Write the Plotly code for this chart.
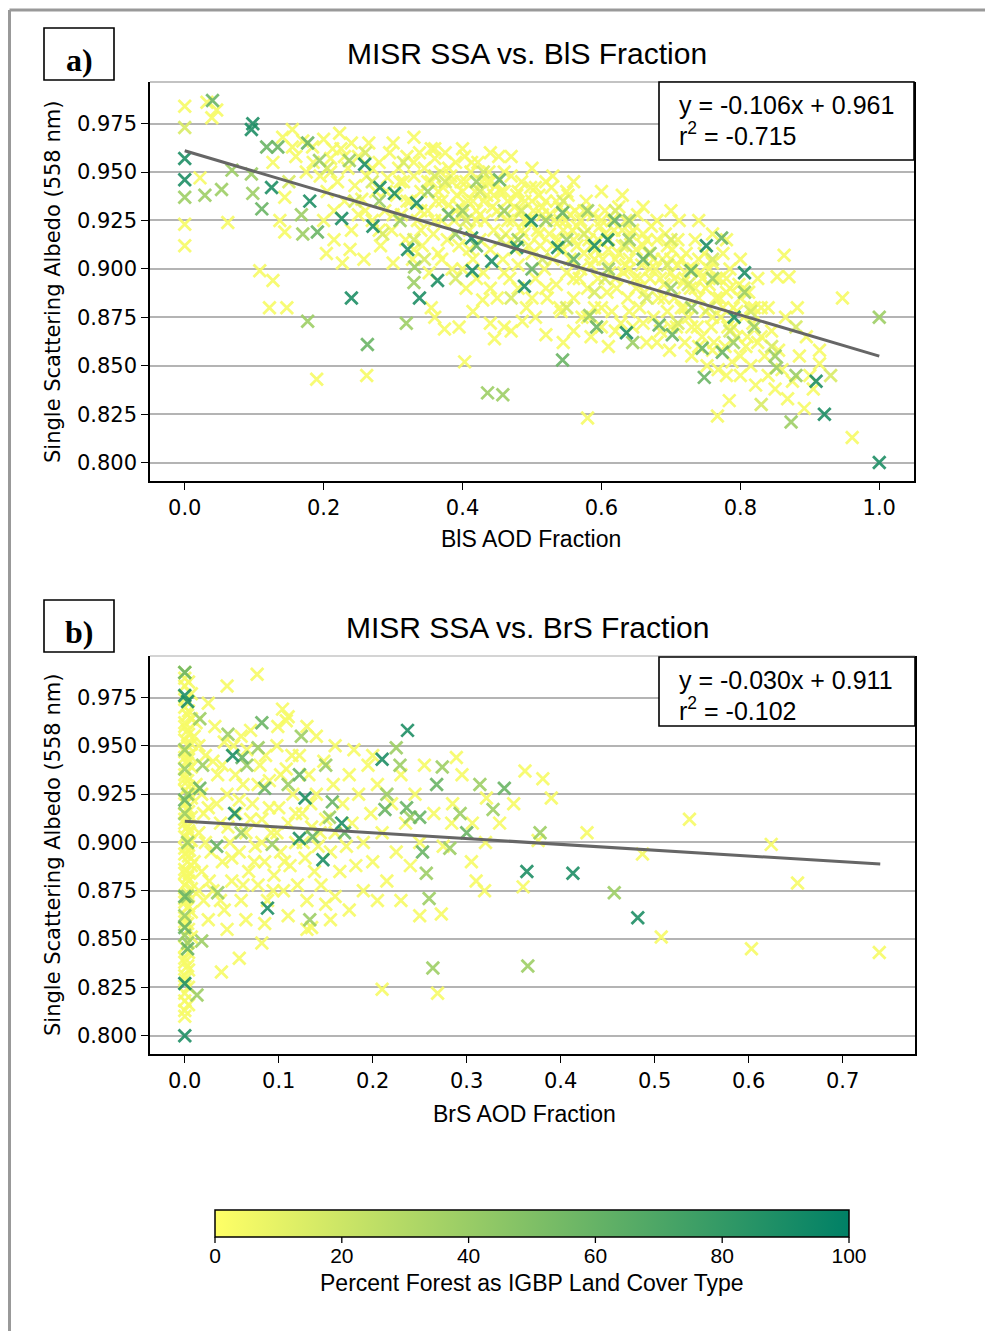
import plotly.graph_objects as go

# The page adds an 8px body margin, so the figure is 8px smaller and target page coords are shifted.
OFF = 8
W, H = 993 - OFF, 1331 - OFF

# ---------------- Panel a data (BlS fraction, SSA) grouped by % forest -------------
forest_levels = [3, 15, 38, 58, 88]

pts_a_f3 = [(0.000, 0.984), (0.000, 0.923), (0.000, 0.912), (0.032, 0.986), (0.046, 0.982), (0.039, 0.978),
            (0.022, 0.947), (0.062, 0.924), (0.108, 0.899), (0.127, 0.894), (0.122, 0.880), (0.147, 0.880),
            (0.190, 0.843), (0.204, 0.908), (0.227, 0.903), (0.262, 0.845), (0.360, 0.875), (0.374, 0.869),
            (0.403, 0.852), (0.413, 0.955), (0.446, 0.864), (0.460, 0.870), (0.486, 0.873), (0.429, 0.884),
            (0.580, 0.823), (0.767, 0.824), (0.784, 0.832), (0.868, 0.833), (0.892, 0.828), (0.914, 0.851),
            (0.961, 0.813), (0.947, 0.885), (0.863, 0.907), (0.882, 0.880), (0.870, 0.896), (0.853, 0.896),
            (0.914, 0.858), (0.895, 0.865), (0.127, 0.955), (0.144, 0.937), (0.137, 0.925), (0.144, 0.919),
            (0.155, 0.972), (0.141, 0.968), (0.155, 0.963), (0.184, 0.963), (0.223, 0.970), (0.213, 0.962),
            (0.160, 0.958), (0.170, 0.966), (0.175, 0.950), (0.185, 0.955), (0.195, 0.948), (0.200, 0.967),
            (0.205, 0.940), (0.210, 0.957), (0.215, 0.930), (0.220, 0.945), (0.225, 0.962), (0.230, 0.935),
            (0.235, 0.952), (0.240, 0.920), (0.245, 0.943), (0.250, 0.958), (0.250, 0.928), (0.200, 0.925),
            (0.215, 0.915), (0.238, 0.910), (0.255, 0.936), (0.258, 0.905), (0.262, 0.948), (0.265, 0.965),
            (0.270, 0.925), (0.275, 0.940), (0.280, 0.955), (0.282, 0.912), (0.288, 0.930), (0.292, 0.947),
            (0.295, 0.960), (0.298, 0.920), (0.300, 0.903), (0.305, 0.938), (0.308, 0.952), (0.312, 0.928),
            (0.315, 0.945), (0.318, 0.915), (0.320, 0.958), (0.325, 0.935), (0.328, 0.905), (0.330, 0.948),
            (0.335, 0.925), (0.338, 0.960), (0.340, 0.940), (0.342, 0.912), (0.345, 0.952), (0.350, 0.930),
            (0.352, 0.898), (0.355, 0.945), (0.358, 0.918), (0.360, 0.957), (0.362, 0.935), (0.365, 0.908),
            (0.368, 0.950), (0.370, 0.925), (0.372, 0.942), (0.375, 0.960), (0.378, 0.915), (0.380, 0.933),
            (0.383, 0.948), (0.385, 0.900), (0.388, 0.925), (0.390, 0.955), (0.392, 0.938), (0.395, 0.912),
            (0.398, 0.945), (0.400, 0.928), (0.403, 0.958), (0.405, 0.890), (0.408, 0.935), (0.410, 0.920),
            (0.412, 0.950), (0.415, 0.905), (0.418, 0.940), (0.420, 0.930), (0.422, 0.955), (0.425, 0.915),
            (0.428, 0.945), (0.430, 0.898), (0.432, 0.925), (0.435, 0.938), (0.438, 0.950), (0.440, 0.910),
            (0.443, 0.932), (0.445, 0.920), (0.448, 0.943), (0.450, 0.885), (0.452, 0.958), (0.455, 0.928),
            (0.458, 0.905), (0.460, 0.940), (0.462, 0.918), (0.465, 0.935), (0.468, 0.895), (0.470, 0.948),
            (0.472, 0.925), (0.475, 0.910), (0.478, 0.938), (0.480, 0.902), (0.482, 0.930), (0.485, 0.945),
            (0.488, 0.918), (0.490, 0.935), (0.492, 0.880), (0.495, 0.925), (0.498, 0.942), (0.500, 0.908),
            (0.502, 0.930), (0.505, 0.895), (0.508, 0.920), (0.510, 0.938), (0.512, 0.912), (0.515, 0.928),
            (0.518, 0.900), (0.520, 0.935), (0.522, 0.885), (0.525, 0.918), (0.528, 0.942), (0.530, 0.905),
            (0.532, 0.925), (0.535, 0.892), (0.538, 0.915), (0.540, 0.932), (0.542, 0.878), (0.545, 0.910),
            (0.548, 0.925), (0.550, 0.898), (0.552, 0.938), (0.555, 0.905), (0.558, 0.920), (0.560, 0.885),
            (0.562, 0.930), (0.565, 0.912), (0.568, 0.895), (0.570, 0.925), (0.572, 0.875), (0.575, 0.908),
            (0.578, 0.935), (0.580, 0.890), (0.582, 0.915), (0.585, 0.902), (0.588, 0.928), (0.590, 0.880),
            (0.592, 0.910), (0.595, 0.895), (0.598, 0.922), (0.600, 0.870), (0.602, 0.905), (0.605, 0.930),
            (0.608, 0.888), (0.610, 0.915), (0.612, 0.898), (0.615, 0.878), (0.618, 0.920), (0.620, 0.905),
            (0.622, 0.890), (0.625, 0.932), (0.628, 0.872), (0.630, 0.912), (0.632, 0.898), (0.635, 0.925),
            (0.638, 0.885), (0.640, 0.905), (0.642, 0.918), (0.645, 0.870), (0.648, 0.895), (0.650, 0.910),
            (0.652, 0.928), (0.655, 0.880), (0.658, 0.902), (0.660, 0.918), (0.662, 0.888), (0.665, 0.862),
            (0.668, 0.908), (0.670, 0.895), (0.672, 0.922), (0.675, 0.875), (0.678, 0.900), (0.680, 0.915),
            (0.682, 0.885), (0.685, 0.868), (0.688, 0.905), (0.690, 0.892), (0.692, 0.918), (0.695, 0.878),
            (0.698, 0.858), (0.700, 0.898), (0.702, 0.910), (0.705, 0.885), (0.708, 0.870), (0.710, 0.902),
            (0.712, 0.925), (0.715, 0.880), (0.718, 0.893), (0.720, 0.862), (0.722, 0.908), (0.725, 0.875),
            (0.728, 0.890), (0.730, 0.855), (0.732, 0.900), (0.735, 0.915), (0.738, 0.870), (0.740, 0.885),
            (0.742, 0.898), (0.745, 0.865), (0.748, 0.908), (0.750, 0.878), (0.752, 0.850), (0.755, 0.892),
            (0.758, 0.870), (0.760, 0.903), (0.762, 0.862), (0.765, 0.885), (0.768, 0.848), (0.770, 0.895),
            (0.772, 0.875), (0.775, 0.908), (0.778, 0.860), (0.780, 0.888), (0.782, 0.870), (0.785, 0.900),
            (0.788, 0.852), (0.790, 0.880), (0.795, 0.865), (0.798, 0.892), (0.800, 0.845), (0.805, 0.875),
            (0.808, 0.860), (0.812, 0.888), (0.815, 0.850), (0.818, 0.872), (0.822, 0.840), (0.825, 0.862),
            (0.830, 0.880), (0.835, 0.855), (0.840, 0.845), (0.845, 0.868), (0.850, 0.838), (0.855, 0.858),
            (0.860, 0.848), (0.865, 0.875), (0.875, 0.842), (0.885, 0.855), (0.900, 0.845), (0.905, 0.838),
            (0.825, 0.895), (0.800, 0.905), (0.780, 0.915), (0.760, 0.918), (0.355, 0.880), (0.395, 0.870),
            (0.415, 0.878), (0.440, 0.872), (0.470, 0.868), (0.505, 0.875), (0.520, 0.866), (0.545, 0.862),
            (0.560, 0.868), (0.585, 0.865), (0.610, 0.860), (0.300, 0.965), (0.330, 0.968), (0.360, 0.962),
            (0.400, 0.962), (0.440, 0.960), (0.470, 0.958), (0.500, 0.952), (0.530, 0.948), (0.560, 0.945),
            (0.600, 0.940), (0.630, 0.938), (0.660, 0.932), (0.700, 0.930), (0.740, 0.925),
            (0.210, 0.950), (0.230, 0.958), (0.240, 0.965), (0.260, 0.930), (0.270, 0.952), (0.280, 0.920),
            (0.290, 0.940), (0.300, 0.928), (0.310, 0.945), (0.320, 0.935), (0.330, 0.955), (0.340, 0.920),
            (0.350, 0.945), (0.360, 0.925), (0.370, 0.935), (0.380, 0.952), (0.390, 0.930), (0.400, 0.940),
            (0.410, 0.910), (0.420, 0.925), (0.430, 0.935), (0.440, 0.945), (0.450, 0.930), (0.460, 0.950),
            (0.470, 0.915), (0.480, 0.940), (0.490, 0.925), (0.500, 0.935), (0.510, 0.918), (0.520, 0.945),
            (0.530, 0.912), (0.540, 0.925), (0.550, 0.940), (0.560, 0.915), (0.570, 0.900), (0.580, 0.920),
            (0.590, 0.905), (0.600, 0.925), (0.610, 0.910), (0.620, 0.895), (0.630, 0.920), (0.640, 0.900),
            (0.650, 0.890), (0.660, 0.912), (0.670, 0.900), (0.680, 0.925), (0.690, 0.885), (0.700, 0.905),
            (0.710, 0.915), (0.720, 0.895), (0.730, 0.870), (0.740, 0.905), (0.750, 0.890), (0.760, 0.875),
            (0.770, 0.885), (0.780, 0.895), (0.790, 0.870), (0.800, 0.885), (0.810, 0.865), (0.820, 0.880),
            (0.830, 0.865), (0.840, 0.880), (0.355, 0.962), (0.365, 0.940), (0.385, 0.945), (0.395, 0.932),
            (0.405, 0.945), (0.415, 0.935), (0.425, 0.928), (0.435, 0.945), (0.445, 0.938), (0.455, 0.940),
            (0.465, 0.925), (0.475, 0.932), (0.485, 0.920), (0.495, 0.912), (0.505, 0.942), (0.515, 0.932),
            (0.525, 0.928), (0.535, 0.935), (0.545, 0.920), (0.555, 0.928), (0.565, 0.922), (0.575, 0.930),
            (0.585, 0.912), (0.595, 0.915), (0.605, 0.918), (0.615, 0.925), (0.625, 0.908), (0.635, 0.902),
            (0.645, 0.920), (0.655, 0.895), (0.665, 0.915), (0.675, 0.905), (0.685, 0.895), (0.695, 0.912),
            (0.705, 0.895), (0.715, 0.905), (0.725, 0.900), (0.735, 0.890), (0.745, 0.895), (0.755, 0.900),
            (0.765, 0.895), (0.775, 0.880), (0.785, 0.890), (0.795, 0.878), (0.805, 0.890), (0.815, 0.880),
            (0.330, 0.910), (0.340, 0.930), (0.370, 0.905), (0.400, 0.900), (0.420, 0.895), (0.440, 0.890),
            (0.460, 0.898), (0.480, 0.890), (0.500, 0.885), (0.520, 0.890), (0.540, 0.880), (0.560, 0.895),
            (0.580, 0.875), (0.600, 0.880), (0.620, 0.868), (0.640, 0.878), (0.660, 0.872), (0.680, 0.862),
            (0.700, 0.870), (0.720, 0.880), (0.740, 0.860), (0.760, 0.858), (0.780, 0.845), (0.800, 0.855)]

pts_a_f15 = [(0.000, 0.973), (0.150, 0.945), (0.205, 0.952), (0.245, 0.935), (0.285, 0.918), (0.315, 0.955),
             (0.345, 0.905), (0.375, 0.945), (0.405, 0.925), (0.425, 0.940), (0.455, 0.915), (0.485, 0.930),
             (0.515, 0.905), (0.545, 0.935), (0.575, 0.918), (0.605, 0.895), (0.635, 0.912), (0.665, 0.885),
             (0.695, 0.902), (0.725, 0.892), (0.755, 0.880), (0.785, 0.868), (0.815, 0.878), (0.845, 0.860),
             (0.880, 0.870), (0.550, 0.880), (0.470, 0.885), (0.390, 0.895), (0.330, 0.915), (0.270, 0.945),
             (0.620, 0.930), (0.700, 0.915), (0.760, 0.905), (0.930, 0.845), (0.830, 0.830), (0.710, 0.872),
             (0.590, 0.888), (0.430, 0.950), (0.360, 0.948), (0.260, 0.960)]

pts_a_f38 = [(0.000, 0.937), (0.029, 0.938), (0.053, 0.941), (0.068, 0.951), (0.096, 0.949), (0.098, 0.939),
             (0.177, 0.873), (0.168, 0.928), (0.170, 0.918), (0.194, 0.956), (0.237, 0.956), (0.319, 0.872),
             (0.331, 0.901), (0.436, 0.836), (0.458, 0.835), (0.583, 0.876), (0.645, 0.862), (0.806, 0.888),
             (0.852, 0.849), (0.873, 0.821), (0.280, 0.935), (0.310, 0.925), (0.350, 0.940), (0.390, 0.918),
             (0.420, 0.945), (0.460, 0.930), (0.480, 0.915), (0.520, 0.925), (0.550, 0.915), (0.580, 0.930),
             (0.610, 0.900), (0.640, 0.915), (0.670, 0.908), (0.700, 0.890), (0.730, 0.880), (0.760, 0.895),
             (0.790, 0.862), (0.820, 0.870), (0.850, 0.855), (0.880, 0.845), (0.330, 0.893), (0.640, 0.925),
             (0.400, 0.930), (1.000, 0.875)]

pts_a_f58 = [(0.040, 0.987), (0.111, 0.931), (0.118, 0.963), (0.134, 0.963), (0.177, 0.965), (0.191, 0.919),
             (0.263, 0.861), (0.453, 0.946), (0.544, 0.853), (0.544, 0.929), (0.593, 0.870), (0.619, 0.925),
             (0.683, 0.871), (0.702, 0.866), (0.729, 0.899), (0.745, 0.859), (0.774, 0.857), (0.748, 0.844),
             (0.773, 0.916), (0.380, 0.928), (0.420, 0.912), (0.500, 0.900), (0.560, 0.905), (0.660, 0.905)]

pts_a_f88 = [(0.098, 0.975), (0.096, 0.972), (0.000, 0.957), (0.000, 0.946), (0.125, 0.942), (0.180, 0.935),
             (0.226, 0.926), (0.240, 0.885), (0.271, 0.922), (0.259, 0.954), (0.281, 0.942), (0.302, 0.939),
             (0.321, 0.910), (0.338, 0.885), (0.334, 0.934), (0.364, 0.894), (0.413, 0.916), (0.414, 0.899),
             (0.442, 0.904), (0.478, 0.911), (0.489, 0.891), (0.499, 0.925), (0.537, 0.911), (0.590, 0.912),
             (0.609, 0.915), (0.636, 0.867), (0.751, 0.912), (0.806, 0.898), (0.791, 0.875), (0.909, 0.842),
             (0.921, 0.825), (1.000, 0.800)]

# ---------------- Panel b data (BrS fraction, SSA) grouped by % forest -------------
pts_b_f3 = [(0.000, 0.985), (0.000, 0.981), (0.000, 0.970), (0.003, 0.966), (0.000, 0.962), (0.003, 0.958),
            (0.000, 0.953), (0.003, 0.950), (0.000, 0.944), (0.003, 0.941), (0.000, 0.935), (0.003, 0.932),
            (0.000, 0.927), (0.003, 0.918), (0.000, 0.912), (0.003, 0.908), (0.000, 0.903), (0.003, 0.899),
            (0.000, 0.894), (0.003, 0.890), (0.000, 0.886), (0.003, 0.882), (0.000, 0.878), (0.003, 0.874),
            (0.000, 0.869), (0.003, 0.866), (0.000, 0.861), (0.003, 0.858), (0.000, 0.840), (0.003, 0.836),
            (0.000, 0.831), (0.000, 0.822), (0.000, 0.813), (0.005, 0.896), (0.005, 0.884), (0.005, 0.905),
            (0.005, 0.925), (0.005, 0.945),
            (0.000, 0.988), (0.004, 0.983), (0.007, 0.977), (0.000, 0.974), (0.004, 0.968), (0.007, 0.964),
            (0.000, 0.960), (0.004, 0.956), (0.007, 0.951), (0.000, 0.947), (0.004, 0.943), (0.007, 0.939),
            (0.000, 0.933), (0.004, 0.929), (0.007, 0.923), (0.000, 0.920), (0.004, 0.916), (0.007, 0.913),
            (0.000, 0.910), (0.004, 0.906), (0.007, 0.901), (0.000, 0.897), (0.004, 0.893), (0.007, 0.888),
            (0.000, 0.884), (0.004, 0.880), (0.007, 0.876), (0.000, 0.871), (0.004, 0.867), (0.007, 0.864),
            (0.000, 0.859), (0.004, 0.855), (0.007, 0.851), (0.000, 0.846), (0.004, 0.843), (0.000, 0.838),
            (0.004, 0.834), (0.000, 0.829), (0.004, 0.825), (0.000, 0.818), (0.004, 0.816), (0.000, 0.810),
            (0.045, 0.981), (0.077, 0.987), (0.025, 0.972), (0.104, 0.969),
            (0.108, 0.963), (0.099, 0.960), (0.082, 0.848), (0.058, 0.840), (0.039, 0.833), (0.210, 0.824),
            (0.269, 0.822), (0.289, 0.944), (0.362, 0.937), (0.381, 0.933), (0.390, 0.923), (0.321, 0.923),
            (0.284, 0.910), (0.306, 0.910), (0.376, 0.901), (0.428, 0.905), (0.537, 0.912), (0.487, 0.894),
            (0.624, 0.899), (0.652, 0.879), (0.739, 0.843), (0.603, 0.845), (0.507, 0.851), (0.360, 0.877),
            (0.310, 0.880), (0.319, 0.875), (0.273, 0.863), (0.135, 0.856), (0.230, 0.870), (0.250, 0.862),
            (0.010, 0.955), (0.012, 0.930), (0.015, 0.905), (0.018, 0.885), (0.020, 0.870), (0.022, 0.945),
            (0.025, 0.918), (0.028, 0.895), (0.030, 0.875), (0.032, 0.960), (0.035, 0.935), (0.038, 0.910),
            (0.040, 0.890), (0.042, 0.865), (0.045, 0.925), (0.048, 0.900), (0.050, 0.880), (0.052, 0.950),
            (0.055, 0.915), (0.058, 0.895), (0.060, 0.870), (0.062, 0.930), (0.065, 0.905), (0.068, 0.885),
            (0.070, 0.958), (0.072, 0.920), (0.075, 0.898), (0.078, 0.878), (0.080, 0.940), (0.082, 0.912),
            (0.085, 0.890), (0.088, 0.870), (0.090, 0.932), (0.092, 0.905), (0.095, 0.883), (0.098, 0.950),
            (0.100, 0.918), (0.102, 0.895), (0.105, 0.875), (0.108, 0.938), (0.110, 0.910), (0.112, 0.888),
            (0.115, 0.925), (0.118, 0.900), (0.120, 0.878), (0.122, 0.945), (0.125, 0.915), (0.128, 0.892),
            (0.130, 0.870), (0.132, 0.935), (0.135, 0.908), (0.138, 0.885), (0.140, 0.925), (0.142, 0.898),
            (0.145, 0.878), (0.148, 0.942), (0.150, 0.912), (0.155, 0.895), (0.158, 0.930), (0.160, 0.905),
            (0.165, 0.885), (0.168, 0.920), (0.172, 0.898), (0.175, 0.935), (0.178, 0.910), (0.182, 0.888),
            (0.185, 0.925), (0.190, 0.900), (0.195, 0.940), (0.198, 0.915), (0.200, 0.890), (0.205, 0.930),
            (0.210, 0.905), (0.215, 0.880), (0.220, 0.920), (0.225, 0.895), (0.230, 0.935), (0.235, 0.910),
            (0.240, 0.888), (0.245, 0.925), (0.250, 0.900), (0.255, 0.940), (0.265, 0.915), (0.275, 0.898),
            (0.285, 0.920), (0.295, 0.935), (0.305, 0.890), (0.320, 0.900), (0.335, 0.910), (0.350, 0.920),
            (0.130, 0.960), (0.110, 0.965), (0.140, 0.955), (0.160, 0.950), (0.180, 0.948), (0.200, 0.945),
            (0.060, 0.955), (0.040, 0.940), (0.020, 0.915), (0.010, 0.890), (0.015, 0.875), (0.025, 0.860),
            (0.045, 0.855), (0.065, 0.860), (0.085, 0.858), (0.110, 0.862), (0.130, 0.855), (0.150, 0.868),
            (0.160, 0.872), (0.175, 0.865), (0.190, 0.875), (0.205, 0.870), (0.155, 0.860),
            (0.012, 0.962), (0.015, 0.950), (0.018, 0.925), (0.022, 0.900), (0.026, 0.880), (0.030, 0.942),
            (0.034, 0.920), (0.038, 0.870), (0.042, 0.952), (0.046, 0.908), (0.050, 0.892), (0.054, 0.935),
            (0.058, 0.922), (0.062, 0.878), (0.066, 0.948), (0.070, 0.912), (0.074, 0.890), (0.078, 0.930),
            (0.082, 0.900), (0.086, 0.945), (0.090, 0.918), (0.094, 0.875), (0.098, 0.905), (0.102, 0.935),
            (0.106, 0.890), (0.114, 0.945), (0.118, 0.915), (0.126, 0.900), (0.134, 0.920), (0.144, 0.905)]

pts_b_f38 = [(0.000, 0.948), (0.000, 0.938), (0.003, 0.925), (0.000, 0.915), (0.003, 0.900), (0.000, 0.862),
             (0.000, 0.852), (0.003, 0.848), (0.003, 0.872), (0.016, 0.964), (0.046, 0.956), (0.078, 0.949),
             (0.066, 0.940), (0.019, 0.940), (0.093, 0.899), (0.133, 0.860), (0.018, 0.849), (0.013, 0.821),
             (0.035, 0.874), (0.124, 0.955), (0.225, 0.949), (0.229, 0.940), (0.215, 0.925), (0.257, 0.884),
             (0.260, 0.871), (0.264, 0.835), (0.274, 0.939), (0.314, 0.930), (0.328, 0.917), (0.293, 0.915),
             (0.282, 0.897), (0.378, 0.905), (0.457, 0.874), (0.365, 0.836), (0.154, 0.913), (0.240, 0.913),
             (0.110, 0.930), (0.060, 0.905), (0.150, 0.940)]

pts_b_f58 = [(0.000, 0.988), (0.000, 0.856), (0.003, 0.845), (0.000, 0.872), (0.000, 0.922), (0.061, 0.944),
             (0.082, 0.962), (0.016, 0.928), (0.085, 0.928), (0.157, 0.921), (0.136, 0.903), (0.034, 0.898),
             (0.213, 0.917), (0.236, 0.918), (0.250, 0.913), (0.253, 0.895), (0.268, 0.930), (0.340, 0.928),
             (0.300, 0.905), (0.122, 0.935), (0.170, 0.905)]

pts_b_f88 = [(0.000, 0.976), (0.003, 0.973), (0.000, 0.827), (0.000, 0.800), (0.051, 0.945), (0.053, 0.915),
             (0.128, 0.923), (0.167, 0.910), (0.122, 0.902), (0.147, 0.891), (0.088, 0.866), (0.210, 0.943),
             (0.237, 0.958), (0.364, 0.885), (0.413, 0.884), (0.482, 0.861)]

# regression fits printed in the boxes
slope_a, intercept_a, r2_a = -0.106, 0.961, -0.715
slope_b, intercept_b, r2_b = -0.030, 0.911, -0.102
fit_x_a = [0.0, 1.0]
fit_x_b = [0.0, 0.74]

y_ticks = [0.800, 0.825, 0.850, 0.875, 0.900, 0.925, 0.950, 0.975]
x_ticks_a = [0.0, 0.2, 0.4, 0.6, 0.8, 1.0]
x_ticks_b = [0.0, 0.1, 0.2, 0.3, 0.4, 0.5, 0.6, 0.7]
cbar_ticks = [0, 20, 40, 60, 80, 100]

# matplotlib summer_r
summer_r = [[0.0, "rgb(255,255,102)"], [1.0, "rgb(0,128,102)"]]


def gather(groups):
    xs, ys, fs = [], [], []
    for pts, lev in groups:
        for (x, y) in pts:
            xs.append(x)
            ys.append(y)
            fs.append(lev)
    return xs, ys, fs


xa, ya, fa = gather([(pts_a_f3, forest_levels[0]), (pts_a_f15, forest_levels[1]), (pts_a_f38, forest_levels[2]),
                     (pts_a_f58, forest_levels[3]), (pts_a_f88, forest_levels[4])])
xb, yb, fb = gather([(pts_b_f3, forest_levels[0]), (pts_b_f38, forest_levels[2]),
                     (pts_b_f58, forest_levels[3]), (pts_b_f88, forest_levels[4])])


def px(x):
    return (x - OFF) / W


def py(y):
    return 1 - (y - OFF) / H


fig = go.Figure()

marker_common = dict(symbol="x-thin", size=12.5, opacity=0.9)

fig.add_trace(go.Scatter(x=xa, y=ya, mode="markers", xaxis="x", yaxis="y", showlegend=False,
                         marker=dict(**marker_common, color=fa, coloraxis="coloraxis",
                                     line=dict(width=2.8, color=fa, coloraxis="coloraxis"))))
fig.add_trace(go.Scatter(x=xb, y=yb, mode="markers", xaxis="x2", yaxis="y2", showlegend=False,
                         marker=dict(**marker_common, color=fb, coloraxis="coloraxis",
                                     line=dict(width=2.8, color=fb, coloraxis="coloraxis"))))

fig.add_trace(go.Scatter(x=fit_x_a, y=[slope_a * v + intercept_a for v in fit_x_a], mode="lines",
                         xaxis="x", yaxis="y", showlegend=False, line=dict(color="#666666", width=3)))
fig.add_trace(go.Scatter(x=fit_x_b, y=[slope_b * v + intercept_b for v in fit_x_b], mode="lines",
                         xaxis="x2", yaxis="y2", showlegend=False, line=dict(color="#666666", width=3)))

tick_font = dict(family="DejaVu Sans", size=21, color="black")
grid_col = "#b4b4b4"


def yax(domain):
    return dict(domain=domain, range=[0.7905, 0.9965], tickvals=y_ticks, tickformat=".3f",
                showgrid=True, gridcolor=grid_col, gridwidth=1.6, zeroline=False,
                showline=True, linecolor="black", linewidth=1.5, mirror=True,
                ticks="outside", ticklen=7, tickwidth=1.3, tickcolor="black", tickfont=tick_font)


def xax(domain, rng, tv, anchor):
    return dict(domain=domain, range=rng, tickvals=tv, tickformat=".1f", anchor=anchor,
                showgrid=False, zeroline=False, showline=True, linecolor="black", linewidth=1.5,
                ticks="outside", ticklen=7, tickwidth=1.3, tickcolor="black", tickfont=tick_font)


# colorbar geometry (page pixels)
CB_L, CB_R, CB_T, CB_B = 215, 849, 1210, 1237

fig.update_layout(
    width=W, height=H, margin=dict(l=0, r=0, t=0, b=0),
    paper_bgcolor="white", plot_bgcolor="white",
    xaxis=xax([px(150), px(914)], [-0.05, 1.05], x_ticks_a, "y"),
    yaxis=yax([py(481), py(82)]),
    xaxis2=xax([px(150), px(915)], [-0.037, 0.777], x_ticks_b, "y2"),
    yaxis2=dict(yax([py(1054), py(656)]), anchor="x2"),
    coloraxis=dict(colorscale=summer_r, cmin=0, cmax=100,
                   colorbar=dict(orientation="h", x=px((CB_L + CB_R) / 2), xanchor="center",
                                 y=py(CB_T), yanchor="top",
                                 len=(CB_R - CB_L) / W, lenmode="fraction",
                                 thickness=CB_B - CB_T, thicknessmode="pixels",
                                 outlinecolor="black", outlinewidth=1.5, xpad=0, ypad=0,
                                 tickvals=cbar_ticks, ticks="",
                                 tickfont=dict(family="Liberation Sans", size=21, color="black"))),
)

shapes = [
    dict(type="line", xref="paper", yref="paper", x0=px(9.5), x1=1, y0=py(10), y1=py(10),
         line=dict(color="#999999", width=3)),
    dict(type="line", xref="paper", yref="paper", x0=px(9.5), x1=px(9.5), y0=py(10), y1=0,
         line=dict(color="#999999", width=3)),
    dict(type="line", xref="paper", yref="paper", x0=px(150), x1=px(914), y0=py(82), y1=py(82),
         line=dict(color="#888888", width=1.2)),
    dict(type="line", xref="paper", yref="paper", x0=px(150), x1=px(915), y0=py(656), y1=py(656),
         line=dict(color="#aaaaaa", width=1.2)),
    dict(type="rect", xref="paper", yref="paper", x0=px(44), x1=px(114), y0=py(80), y1=py(28),
         line=dict(color="black", width=1.6), fillcolor="white"),
    dict(type="rect", xref="paper", yref="paper", x0=px(44), x1=px(114), y0=py(652), y1=py(600),
         line=dict(color="black", width=1.6), fillcolor="white"),
    dict(type="rect", xref="paper", yref="paper", x0=px(659), x1=px(914), y0=py(160), y1=py(82),
         line=dict(color="black", width=1.6), fillcolor="white"),
    dict(type="rect", xref="paper", yref="paper", x0=px(659), x1=px(915), y0=py(726), y1=py(657),
         line=dict(color="black", width=1.6), fillcolor="white"),
]
# colorbar tick marks below the bar, placed at the tick values
for v in cbar_ticks:
    xt = CB_L + (CB_R - CB_L) * v / 100
    shapes.append(dict(type="line", xref="paper", yref="paper", x0=px(xt), x1=px(xt),
                       y0=py(CB_B), y1=py(CB_B + 6), line=dict(color="black", width=1.3)))
fig.update_layout(shapes=shapes)

sans = "Liberation Sans, Arial, Helvetica, sans-serif"


def ann(text, x, y, size, family=sans, xanchor="center", angle=0):
    return dict(text=text, x=px(x), y=py(y), xref="paper", yref="paper", showarrow=False,
                xanchor=xanchor, yanchor="middle", textangle=angle,
                font=dict(family=family, size=size, color="black"))


annotations = [
    ann("<b>a)</b>", 79, 60, 32, family="Liberation Serif, Times New Roman, serif"),
    ann("<b>b)</b>", 79, 632, 32, family="Liberation Serif, Times New Roman, serif"),
    ann("MISR SSA vs. BlS Fraction", 527, 53, 30),
    ann("MISR SSA vs. BrS Fraction", 527, 627, 30),
    ann("BlS AOD Fraction", 531, 539, 23),
    ann("BrS AOD Fraction", 524, 1114, 23),
    ann("Single Scattering Albedo (558 nm)", 53, 282, 21, family="DejaVu Sans", angle=-90),
    ann("Single Scattering Albedo (558 nm)", 53, 855, 21, family="DejaVu Sans", angle=-90),
    ann(f"y = {slope_a:.3f}x + {intercept_a:.3f}", 677, 105, 25, xanchor="left"),
    ann(f"r<sup>2</sup> = {r2_a:.3f}", 677, 134, 25, xanchor="left"),
    ann(f"y = {slope_b:.3f}x + {intercept_b:.3f}", 677, 680, 25, xanchor="left"),
    ann(f"r<sup>2</sup> = {r2_b:.3f}", 677, 709, 25, xanchor="left"),
    ann("Percent Forest as IGBP Land Cover Type", 532, 1283, 23),
]
fig.update_layout(annotations=annotations)

fig.write_html("out.html")
